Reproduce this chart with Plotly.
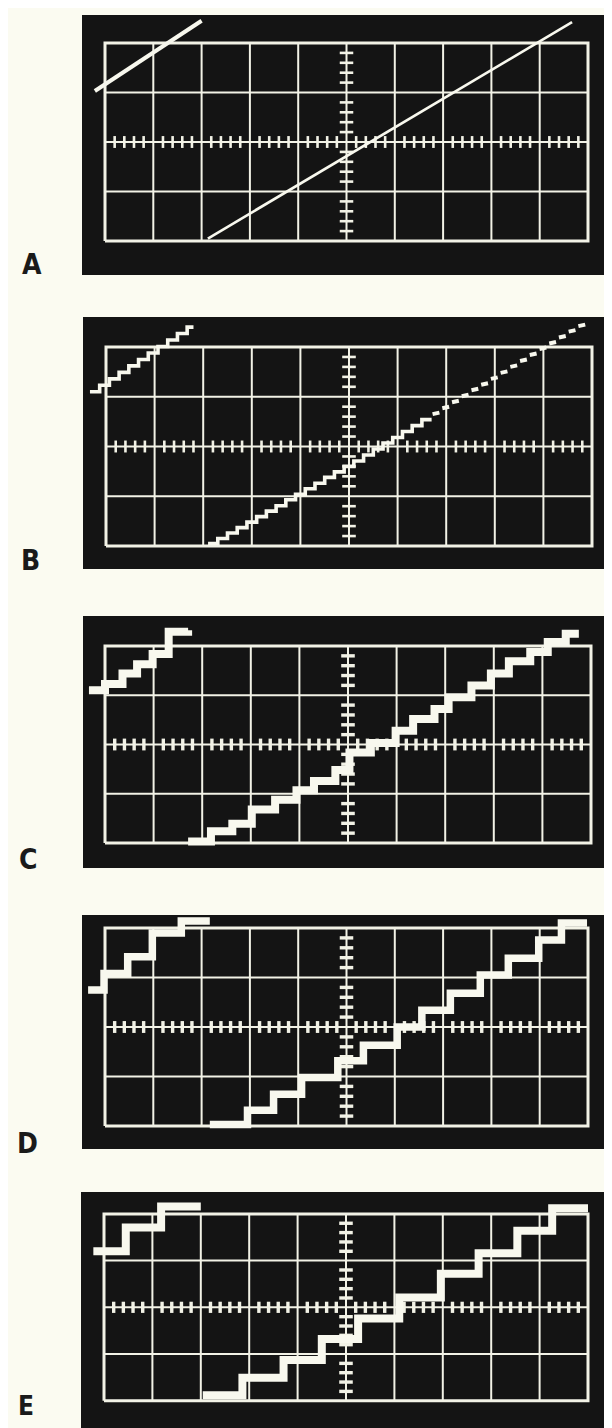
import plotly.graph_objects as go

W, H = 612, 1428
PAPER = "#fbfbf1"
SCREEN = "#141414"
INK = "#f2f2e6"
TRACE = "#f8f8ee"

labels = ["A", "B", "C", "D", "E"]
label_px = {"A": (24, 256), "B": (22, 553), "C": (20, 851), "D": (19, 1135), "E": (18, 1398)}

# black screen boxes (x0, x1, y0, y1) in page pixels
box_px = {
    "A": (74, 609, 7, 267),
    "B": (75, 609, 309, 561),
    "C": (75, 609, 608, 860),
    "D": (74, 609, 907, 1141),
    "E": (73, 606, 1184, 1440),
}
# graticule boxes (10 x 4 divisions)
grat_px = {
    "A": (97, 580, 35, 233),
    "B": (98, 584, 339, 538),
    "C": (97, 583, 638, 835),
    "D": (97, 580, 920, 1118),
    "E": (96, 580, 1207, 1403),
}

# ---- trace data (divisions) ----
A_main_x = [-2.87, 4.67]
A_main_y = [-1.95, 2.42]
A_ul_x = [-5.21, -3.0]
A_ul_y = [1.03, 2.45]

B_main_x = [-2.9, -2.7, -2.5, -2.3, -2.1, -1.9, -1.7, -1.5, -1.3, -1.1, -0.9, -0.7, -0.5,
            -0.3, -0.1, 0.1, 0.3, 0.5, 0.7, 0.9, 1.1, 1.3, 1.5, 1.7, 1.9, 2.1, 2.3, 2.5,
            2.7, 2.9, 3.1, 3.3, 3.5, 3.7, 3.9, 4.1, 4.3, 4.5, 4.7]
B_main_y = [-1.95, -1.85, -1.74, -1.63, -1.52, -1.41, -1.30, -1.19, -1.07, -0.96, -0.85,
            -0.74, -0.62, -0.51, -0.40, -0.29, -0.17, -0.05, 0.07, 0.18, 0.30, 0.42, 0.54,
            0.65, 0.77, 0.89, 1.01, 1.13, 1.24, 1.36, 1.48, 1.60, 1.72, 1.84, 1.96, 2.07,
            2.19, 2.31, 2.42]
B_ul_x = [-5.33, -5.13, -4.93, -4.73, -4.53, -4.33, -4.13, -3.93, -3.73, -3.53, -3.33, -3.2]
B_ul_y = [1.10, 1.23, 1.36, 1.49, 1.62, 1.75, 1.88, 2.01, 2.14, 2.27, 2.40, 2.40]
B_dash_from = 1.5

C_main_x = [-3.29, -2.82, -2.38, -1.98, -1.50, -1.06, -0.70, -0.26, 0.03, 0.47, 0.98, 1.34,
            1.78, 2.07, 2.54, 2.94, 3.31, 3.75, 4.11, 4.48, 4.75]
C_main_y = [-1.97, -1.76, -1.61, -1.32, -1.12, -0.93, -0.74, -0.52, -0.16, 0.03, 0.28, 0.52,
            0.72, 0.96, 1.20, 1.44, 1.69, 1.88, 2.08, 2.25, 2.25]
C_ul_x = [-5.33, -5.0, -4.64, -4.34, -4.02, -3.69, -3.29]
C_ul_y = [1.10, 1.23, 1.44, 1.63, 1.84, 2.29, 2.32]

D_main_x = [-2.83, -2.05, -1.51, -0.93, -0.18, 0.35, 1.05, 1.56, 2.15, 2.77, 3.35, 3.98, 4.45, 4.98]
D_main_y = [-1.97, -1.68, -1.36, -1.02, -0.68, -0.37, 0.0, 0.34, 0.68, 1.05, 1.39, 1.76, 2.10, 2.10]
D_ul_x = [-5.35, -5.02, -4.53, -4.02, -3.42, -2.83]
D_ul_y = [0.75, 1.08, 1.42, 1.90, 2.14, 2.14]

E_main_x = [-2.96, -2.14, -1.29, -0.50, 0.25, 1.10, 1.96, 2.74, 3.54, 4.26, 5.0]
E_main_y = [-1.88, -1.51, -1.13, -0.68, -0.24, 0.21, 0.72, 1.16, 1.64, 2.12, 2.12]
E_ul_x = [-5.22, -4.55, -3.82, -3.0]
E_ul_y = [1.20, 1.71, 2.16, 2.16]

fig = go.Figure()


def axes_names(n):
    return ("x" if n == 1 else f"x{n}", "y" if n == 1 else f"y{n}")


def add_line(n, xs, ys, width, shape="linear", color=TRACE):
    xa, ya = axes_names(n)
    fig.add_trace(go.Scatter(x=xs, y=ys, xaxis=xa, yaxis=ya, mode="lines",
                             line=dict(color=color, width=width, shape=shape),
                             hoverinfo="skip", showlegend=False))


layout = {}
for i, key in enumerate(labels):
    n = i + 1
    xa, ya = axes_names(n)
    bx0, bx1, by0, by1 = box_px[key]
    gx0, gx1, gy0, gy1 = grat_px[key]
    sx = (gx1 - gx0) / 10.0
    sy = (gy1 - gy0) / 4.0
    xr = [-5 - (gx0 - bx0) / sx, 5 + (bx1 - gx1) / sx]
    yr = [-2 - (by1 - gy1) / sy, 2 + (gy0 - by0) / sy]
    layout["xaxis" if n == 1 else f"xaxis{n}"] = dict(
        domain=[bx0 / W, bx1 / W], range=xr, visible=False, fixedrange=True, anchor=ya)
    layout["yaxis" if n == 1 else f"yaxis{n}"] = dict(
        domain=[max(0, 1 - by1 / H), 1 - by0 / H], range=yr, visible=False,
        fixedrange=True, anchor=xa)

    # graticule interior lines
    gxs, gys = [], []
    for v in range(-4, 5):
        gxs += [v, v, None]
        gys += [-2, 2, None]
    for h in range(-1, 2):
        gxs += [-5, 5, None]
        gys += [h, h, None]
    add_line(n, gxs, gys, 2.0, color=INK)
    # border
    add_line(n, [-5, 5, 5, -5, -5], [-2, -2, 2, 2, -2], 3.0, color=INK)
    # centre-line ticks
    txs, tys = [], []
    for k in range(-24, 25):
        if k % 5:
            txs += [k / 5, k / 5, None]
            tys += [-0.12, 0.12, None]
    for k in range(-9, 10):
        if k % 5:
            txs += [-0.14, 0.14, None]
            tys += [k / 5, k / 5, None]
    add_line(n, txs, tys, 2.6 if key in "AB" else 3.4, color=INK)

    lx, ly = label_px[key]
    fig.add_annotation(x=lx / W, y=1 - ly / H, xref="paper", yref="paper", text=f"<b>{key}</b>",
                       showarrow=False, xanchor="center", yanchor="middle",
                       font=dict(family="Liberation Sans Narrow, DejaVu Sans Condensed, Roboto Condensed, Liberation Sans, sans-serif",
                                 size=28 if key != "E" else 26, color="#1a1a1a"))

# traces
add_line(1, A_main_x, A_main_y, 2.6)
add_line(1, A_ul_x, A_ul_y, 4.0)

bl_x = [x for x in B_main_x if x <= B_dash_from]
bl_y = B_main_y[:len(bl_x)]
add_line(2, bl_x + [B_main_x[len(bl_x)]], bl_y + [bl_y[-1]], 3.6, shape="hv")
sx_, sy_ = [], []
for j in range(len(bl_x), len(B_main_x)):
    x0 = B_main_x[j]
    x1 = B_main_x[j + 1] if j + 1 < len(B_main_x) else x0 + 0.2
    sx_ += [x0 + 0.02, x1 - 0.04, None]
    sy_ += [B_main_y[j], B_main_y[j] + 0.03, None]
add_line(2, sx_, sy_, 4.0)
add_line(2, B_ul_x, B_ul_y, 3.6, shape="hv")

add_line(3, C_main_x, C_main_y, 8.0, shape="hv")
add_line(3, C_ul_x, C_ul_y, 8.0, shape="hv")

add_line(4, D_main_x, D_main_y, 7.5, shape="hv")
add_line(4, D_ul_x, D_ul_y, 7.5, shape="hv")

add_line(5, E_main_x, E_main_y, 8.0, shape="hv")
add_line(5, E_ul_x, E_ul_y, 8.0, shape="hv")

fig.update_layout(width=W, height=H, margin=dict(l=0, r=0, t=0, b=0),
                  paper_bgcolor=PAPER, plot_bgcolor=SCREEN, showlegend=False, **layout)

fig.write_html("out.html")
